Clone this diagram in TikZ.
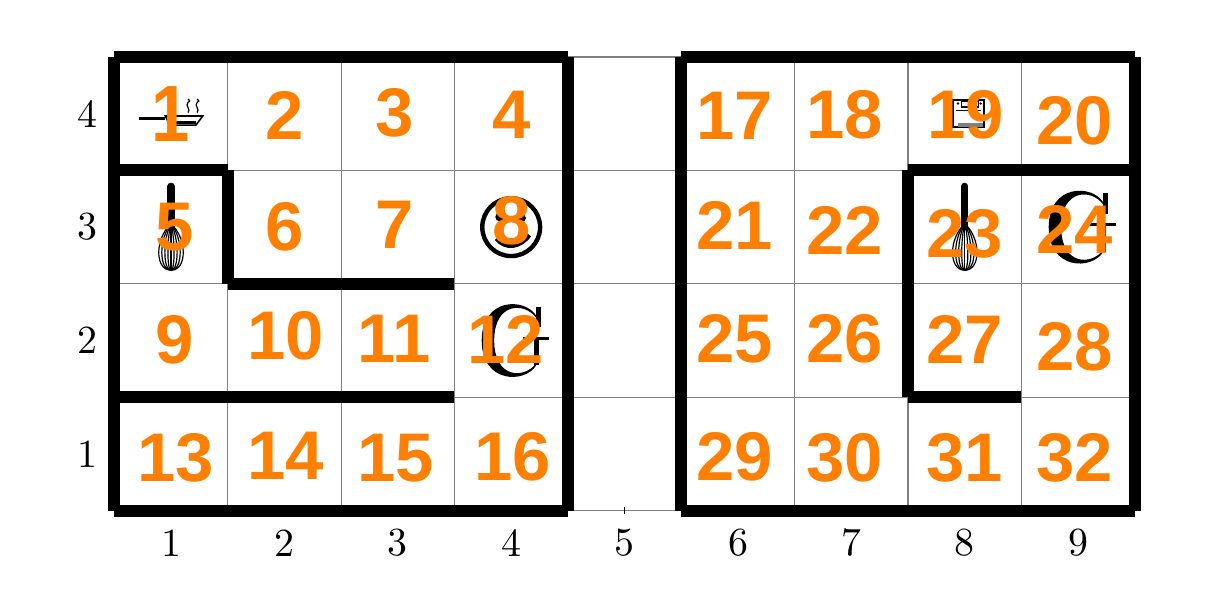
\documentclass[tikz,border=0pt]{standalone}
\usepackage{fontspec}
\usepackage{tikz}
\newfontfamily\numfont{Liberation Sans}
\definecolor{numorange}{RGB}{255,127,0}
\tikzset{
  wall/.style={line width=3pt},
  cellno/.style={font=\numfont\bfseries\LARGE,text=numorange,inner sep=0pt,yshift=.1pt},
  axis/.style={inner sep=0pt},
  whisk/.pic={
    \draw[line width=1.8pt,line cap=round] (0,.36) -- (0,0);
    \foreach \w in {.03,.06,.09,.12}
      \draw[line width=.3pt] (0,.03) .. controls (-\w*1.2,-.1) and (-\w*1.2,-.38) .. (0,-.38)
        .. controls (\w*1.2,-.38) and (\w*1.2,-.1) .. (0,.03);
    \draw[line width=.3pt] (0,.03) -- (0,-.38);
  },
  pan/.pic={
    \draw[line width=.8pt] (-.28,-.04) -- (-.05,-.04);
    \draw[line width=.4pt] (-.05,-.02) -- (.28,-.02) -- (.22,-.1) -- (-.01,-.1) -- cycle;
    \draw[line width=.8pt] (-.01,-.08) -- (.22,-.08);
    \foreach \s in {0,.15,.23}
      \draw[line width=.3pt] (\s,.01) .. controls (\s+.03,.04) and (\s-.03,.07) .. (\s,.1)
        .. controls (\s+.02,.11) .. (\s,.13);
  },
  oven/.pic={
    \draw[line width=.5pt] (-.1,.12) rectangle (.17,-.12);
    \fill (-.06,.09) circle (.012) (.14,.09) circle (.012);
    \draw[line width=.3pt] (-.03,.105) rectangle (.12,.06);
    \draw[line width=.3pt] (-.08,.03) -- (.14,.03);
    \draw[line width=1pt,gray] (-.06,-.1) -- (.16,-.1);
  },
  smiley/.pic={
    \draw[line width=1.1pt] (0,0) circle (.255);
    \fill (-.1,.09) circle (.04) (.09,.08) circle (.04);
    \draw[line width=1.1pt] (-.13,-.1) .. controls (-.05,-.2) and (.08,-.18) .. (.16,-.07);
  },
  bigg/.pic={
    \fill (.2,.22) .. controls (.1,.38) and (-.28,.38) .. (-.28,0)
      .. controls (-.28,-.38) and (.1,-.38) .. (.2,-.22)
      -- (.2,-.2) .. controls (.1,-.34) and (-.17,-.34) .. (-.17,0)
      .. controls (-.17,.34) and (.1,.34) .. (.2,.2) -- cycle;
    \draw[line width=1.2pt] (.22,.3) -- (.22,.12);
    \draw[line width=1.2pt] (.2,.02) -- (.2,-.22);
    \draw[line width=.8pt] (.08,.02) -- (.31,.02);
  }
}
\begin{document}
\begin{tikzpicture}
  \useasboundingbox (-0.508,-0.2346) rectangle (10.339,5.003);

  % grid
  \draw[gray,line width=.3pt,shift={(.5,.5)}] (0,0) grid (9,4);
  \draw[line width=.4pt] (5,0.47) -- (5,0.53);

  % icons
  \pic at (1,4) {pan};
  \pic at (8,4) {oven};
  \pic at (1,3) {whisk};
  \pic at (8,3) {whisk};
  \pic at (4,3) {smiley};
  \pic at (4.02,2) {bigg};
  \pic at (9.02,3) {bigg};

  % walls
  \draw[wall] (0.5,0.5) -- (0.5,4.5);
  \draw[wall] (0.5,4.5) -- (4.5,4.5);
  \draw[wall] (4.5,4.5) -- (4.5,0.5);
  \draw[wall] (0.5,0.5) -- (4.5,0.5);
  \draw[wall] (0.5,3.5) -- (1.5,3.5);
  \draw[wall] (1.5,3.5) -- (1.5,2.5);
  \draw[wall] (1.5,2.5) -- (3.5,2.5);
  \draw[wall] (0.5,1.5) -- (3.5,1.5);
  \draw[wall] (5.5,0.5) -- (5.5,4.5);
  \draw[wall] (5.5,4.5) -- (9.5,4.5);
  \draw[wall] (9.5,4.5) -- (9.5,0.5);
  \draw[wall] (5.5,0.5) -- (9.5,0.5);
  \draw[wall] (7.5,3.5) -- (9.5,3.5);
  \draw[wall] (7.5,3.5) -- (7.5,1.5);
  \draw[wall] (7.5,1.5) -- (8.5,1.5);

  % axes
  \foreach \i in {1,...,9}
    \node[axis] (x\i) at (\i,0.215) {\i};
  \foreach \i in {1,...,4}
    \node[axis] (y\i) at (0.26,\i) {\i};

  % cell numbers
  \node[cellno,yscale=1.16,transform shape] (n1) at (1.00,3.99) {1};
  \node[cellno] (n2) at (2.00,3.98) {2};
  \node[cellno] (n3) at (2.97,4.00) {3};
  \node[cellno] (n4) at (4.00,3.99) {4};
  \node[cellno] (n5) at (1.03,3.00) {5};
  \node[cellno] (n6) at (2.00,3.00) {6};
  \node[cellno] (n7) at (2.97,3.02) {7};
  \node[cellno] (n8) at (4.00,3.05) {8};
  \node[cellno] (n9) at (1.03,2.00) {9};
  \node[cellno] (n10) at (2.01,2.04) {10};
  \node[cellno] (n11) at (2.97,2.01) {11};
  \node[cellno] (n12) at (3.95,2.01) {12};
  \node[cellno] (n13) at (1.04,0.96) {13};
  \node[cellno] (n14) at (2.01,0.98) {14};
  \node[cellno] (n15) at (2.98,0.96) {15};
  \node[cellno] (n16) at (4.01,0.97) {16};
  \node[cellno] (n17) at (5.97,3.98) {17};
  \node[cellno] (n18) at (6.94,3.99) {18};
  \node[cellno] (n19) at (8.01,3.99) {19};
  \node[cellno] (n20) at (8.97,3.93) {20};
  \node[cellno] (n21) at (5.97,3.01) {21};
  \node[cellno] (n22) at (6.94,2.97) {22};
  \node[cellno] (n23) at (8.00,2.94) {23};
  \node[cellno] (n24) at (8.97,2.98) {24};
  \node[cellno] (n25) at (5.97,2.01) {25};
  \node[cellno] (n26) at (6.94,2.01) {26};
  \node[cellno] (n27) at (8.00,2.01) {27};
  \node[cellno] (n28) at (8.97,1.94) {28};
  \node[cellno] (n29) at (5.97,0.97) {29};
  \node[cellno] (n30) at (6.94,0.96) {30};
  \node[cellno] (n31) at (8.00,0.96) {31};
  \node[cellno] (n32) at (8.97,0.96) {32};
\end{tikzpicture}
\end{document}
